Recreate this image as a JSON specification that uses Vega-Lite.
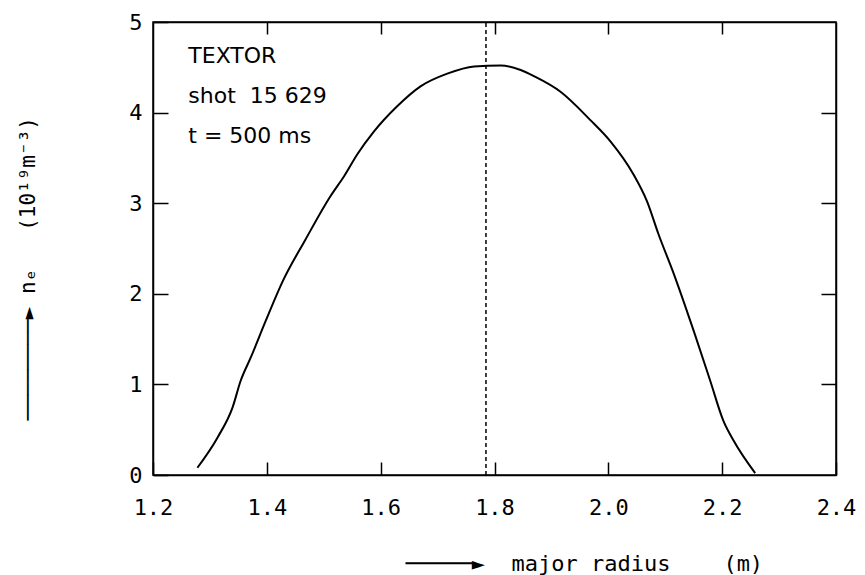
{
  "$schema": "https://vega.github.io/schema/vega-lite/v6.json",
  "width": 683,
  "height": 453,
  "autosize": {"type": "none"},
  "padding": {"left": 153, "top": 22, "right": 29, "bottom": 100},
  "background": "white",
  "config": {
    "view": {"stroke": "black", "strokeWidth": 1.5},
    "axis": {
      "grid": false,
      "ticks": true,
      "zindex": 1,
      "domainColor": "black",
      "domainWidth": 1.5,
      "tickColor": "black",
      "tickWidth": 1.5,
      "labelColor": "black",
      "titleColor": "black",
      "labelFont": "DejaVu Sans Mono",
      "labelFontSize": 22,
      "titleFont": "DejaVu Sans Mono",
      "titleFontWeight": "normal"
    }
  },
  "datasets": {
    "profile": [
      {"R": 1.278, "ne": 0.08},
      {"R": 1.314, "ne": 0.42},
      {"R": 1.340, "ne": 0.75},
      {"R": 1.354, "ne": 1.04},
      {"R": 1.372, "ne": 1.30},
      {"R": 1.398, "ne": 1.70},
      {"R": 1.428, "ne": 2.14},
      {"R": 1.468, "ne": 2.60},
      {"R": 1.512, "ne": 3.08},
      {"R": 1.536, "ne": 3.30},
      {"R": 1.559, "ne": 3.54},
      {"R": 1.588, "ne": 3.79},
      {"R": 1.629, "ne": 4.07},
      {"R": 1.670, "ne": 4.29},
      {"R": 1.717, "ne": 4.43},
      {"R": 1.764, "ne": 4.51},
      {"R": 1.811, "ne": 4.52},
      {"R": 1.846, "ne": 4.47},
      {"R": 1.870, "ne": 4.40},
      {"R": 1.916, "ne": 4.23},
      {"R": 1.968, "ne": 3.92},
      {"R": 2.004, "ne": 3.68},
      {"R": 2.044, "ne": 3.32},
      {"R": 2.068, "ne": 3.02},
      {"R": 2.088, "ne": 2.66},
      {"R": 2.115, "ne": 2.22},
      {"R": 2.150, "ne": 1.59},
      {"R": 2.179, "ne": 1.04},
      {"R": 2.202, "ne": 0.60},
      {"R": 2.220, "ne": 0.38},
      {"R": 2.258, "ne": 0.02}
    ],
    "marker": [{"R": 1.785, "y0": 0, "y1": 5}],
    "notes": [
      {"R": 1.262, "ne": 4.62, "label": "TEXTOR"},
      {"R": 1.262, "ne": 4.18, "label": "shot\u00a0\u00a015\u00a0629"},
      {"R": 1.262, "ne": 3.74, "label": "t = 500 ms"}
    ]
  },
  "layer": [
    {
      "data": {"name": "profile"},
      "mark": {"type": "line", "color": "black", "strokeWidth": 2, "interpolate": "monotone"},
      "encoding": {
        "x": {
          "field": "R",
          "type": "quantitative",
          "scale": {"domain": [1.2, 2.4], "nice": false, "zero": false},
          "axis": {
            "orient": "bottom",
            "values": [1.2, 1.4, 1.6, 1.8, 2.0, 2.2, 2.4],
            "format": ".1f",
            "tickSize": -13,
            "labelPadding": 35,
            "labelFlush": false,
            "labelBaseline": "top",
            "title": "─────►\u00a0\u00a0major\u00a0radius\u00a0\u00a0\u00a0\u00a0(m)",
            "titleFontSize": 22,
            "titleAlign": "left",
            "titleBaseline": "middle",
            "titleAnchor": "start",
            "titleX": 252,
            "titleY": 88
          }
        },
        "y": {
          "field": "ne",
          "type": "quantitative",
          "scale": {"domain": [0, 5], "nice": false, "zero": false},
          "axis": {
            "orient": "left",
            "values": [0, 1, 2, 3, 4, 5],
            "tickSize": -15,
            "labelPadding": 26,
            "labelFlush": false,
            "labelBaseline": "middle",
            "title": "────────►\u00a0nₑ\u00a0\u00a0\u00a0(10¹⁹m⁻³)",
            "titleFontSize": 21,
            "titleAngle": 270,
            "titleAlign": "left",
            "titleBaseline": "middle",
            "titleAnchor": "start",
            "titleX": -125,
            "titleY": 398
          }
        }
      }
    },
    {
      "data": {"name": "marker"},
      "mark": {"type": "rule", "color": "black", "strokeWidth": 1.5, "strokeDash": [4, 3]},
      "encoding": {
        "x": {
          "field": "R",
          "type": "quantitative",
          "axis": {
            "orient": "top",
            "values": [1.4, 1.6, 1.8, 2.0, 2.2],
            "tickSize": -12,
            "labels": false,
            "title": null
          }
        },
        "y": {
          "field": "y0",
          "type": "quantitative",
          "axis": {
            "orient": "right",
            "values": [1, 2, 3, 4],
            "tickSize": -15,
            "labels": false,
            "title": null
          }
        },
        "y2": {"field": "y1"}
      }
    },
    {
      "data": {"name": "notes"},
      "mark": {"type": "text", "align": "left", "baseline": "middle", "font": "DejaVu Sans", "fontSize": 22, "color": "black"},
      "encoding": {
        "x": {"field": "R", "type": "quantitative", "axis": null},
        "y": {"field": "ne", "type": "quantitative", "axis": null},
        "text": {"field": "label"}
      }
    }
  ],
  "resolve": {"axis": {"x": "independent", "y": "independent"}}
}
